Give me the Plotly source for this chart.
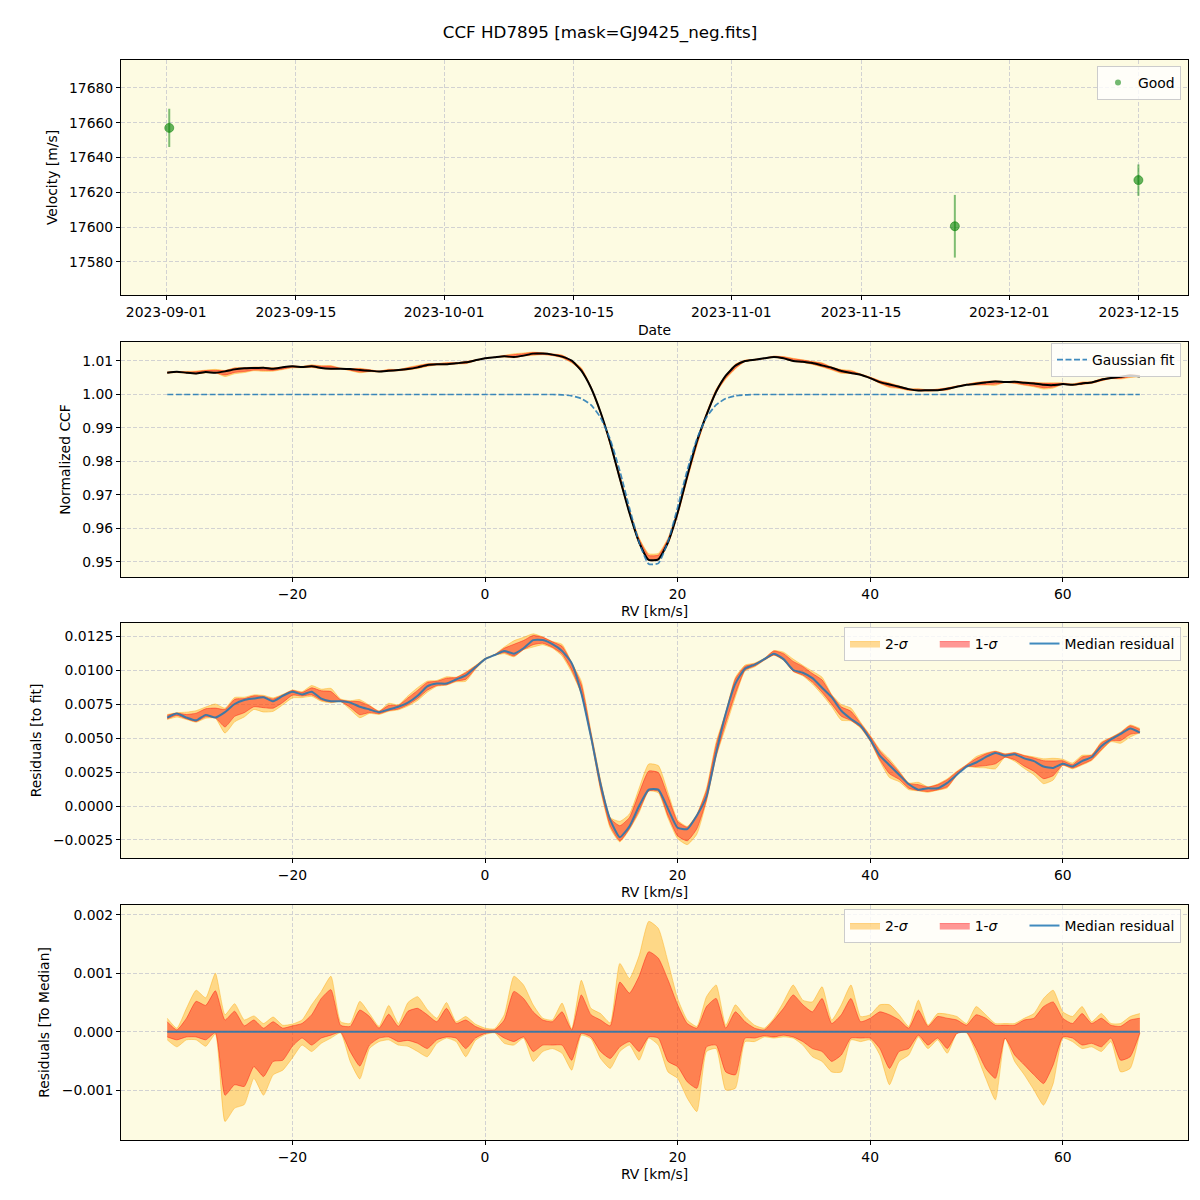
import plotly.graph_objects as go

# ---------------- data ----------------
title_text = "CCF HD7895 [mask=GJ9425_neg.fits]"

obs_dates = ["2023-09-01 08:00", "2023-11-25 03:00", "2023-12-14 22:30"]
obs_velocity = [17657.0, 17600.5, 17627.0]
obs_error = [11.0, 18.0, 9.0]

date_ticks = ["2023-09-01", "2023-09-15", "2023-10-01", "2023-10-15",
              "2023-11-01", "2023-11-15", "2023-12-01", "2023-12-15"]

rv = list(range(-33, 69))  # km/s grid (-33 ... 68)

gauss_fit = ([1.0] * 41 +
             [0.9999, 0.9996, 0.9988, 0.9969, 0.9931, 0.9866, 0.9772, 0.9661, 0.9559, 0.9494,
              0.9496, 0.9561, 0.9663, 0.9774, 0.9867, 0.9932, 0.9969, 0.9988, 0.9996, 0.9999] +
             [1.0] * 41)

median_resid = [
    0.0065, 0.0068, 0.0065, 0.0063, 0.0067, 0.0065, 0.0069, 0.0075, 0.0078, 0.0079,
    0.0080, 0.0077, 0.0081, 0.0084, 0.0082, 0.0084, 0.0079, 0.0077, 0.0077, 0.0076,
    0.0073, 0.0071, 0.0069, 0.0071, 0.0073, 0.0076, 0.0081, 0.0088, 0.0090, 0.0090,
    0.0093, 0.0096, 0.0102, 0.0108, 0.0111, 0.0114, 0.0112, 0.0116, 0.0122, 0.0122,
    0.0119, 0.0114, 0.0105, 0.0083, 0.0051, 0.0016, -0.0010, -0.0023, -0.0015, 0.0000,
    0.0012, 0.0012, -0.0002, -0.0016, -0.0017, -0.0007, 0.0007, 0.0039, 0.0068, 0.0090,
    0.0101, 0.0104, 0.0108, 0.0112, 0.0108, 0.0100, 0.0098, 0.0094, 0.0087, 0.0080,
    0.0070, 0.0064, 0.0059, 0.0049, 0.0037, 0.0030, 0.0023, 0.0016, 0.0012, 0.0013,
    0.0013, 0.0017, 0.0023, 0.0029, 0.0032, 0.0036, 0.0039, 0.0037, 0.0038, 0.0035,
    0.0033, 0.0029, 0.0028, 0.0031, 0.0029, 0.0033, 0.0036, 0.0044, 0.0049, 0.0053,
    0.0057, 0.0054]

# offsets from the median residual, in units of 1e-3
upper_1sigma_milli = [
    0.17, 0.03, 0.23, 0.52, 0.45, 0.70, 0.20, 0.35, 0.10, 0.20,
    0.06, 0.17, 0.06, 0.10, 0.14, 0.29, 0.57, 0.72, 0.11, 0.09,
    0.37, 0.26, 0.06, 0.30, 0.09, 0.35, 0.40, 0.29, 0.17, 0.40,
    0.14, 0.20, 0.09, 0.03, 0.03, 0.20, 0.69, 0.57, 0.34, 0.20,
    0.17, 0.34, 0.03, 0.63, 0.29, 0.20, 0.10, 0.85, 0.66, 0.95,
    1.37, 1.26, 0.89, 0.46, 0.14, 0.06, 0.43, 0.57, 0.06, 0.34,
    0.17, 0.06, 0.03, 0.20, 0.40, 0.63, 0.46, 0.34, 0.57, 0.14,
    0.29, 0.57, 0.17, 0.23, 0.34, 0.29, 0.20, 0.06, 0.37, 0.09,
    0.26, 0.23, 0.20, 0.11, 0.29, 0.23, 0.11, 0.11, 0.11, 0.20,
    0.23, 0.43, 0.51, 0.23, 0.14, 0.31, 0.14, 0.23, 0.11, 0.09,
    0.20, 0.23]
upper_2sigma_milli = [
    0.23, 0.06, 0.40, 0.71, 0.58, 1.00, 0.29, 0.48, 0.20, 0.27,
    0.14, 0.25, 0.11, 0.13, 0.20, 0.46, 0.69, 0.95, 0.17, 0.14,
    0.52, 0.31, 0.09, 0.45, 0.14, 0.50, 0.60, 0.38, 0.23, 0.50,
    0.17, 0.26, 0.13, 0.06, 0.05, 0.29, 0.95, 0.80, 0.46, 0.23,
    0.20, 0.49, 0.05, 0.88, 0.40, 0.31, 0.15, 1.17, 0.91, 1.30,
    1.89, 1.77, 1.20, 0.57, 0.20, 0.09, 0.60, 0.80, 0.11, 0.46,
    0.26, 0.11, 0.06, 0.23, 0.51, 0.80, 0.54, 0.51, 0.77, 0.20,
    0.46, 0.80, 0.26, 0.29, 0.46, 0.46, 0.29, 0.09, 0.54, 0.11,
    0.31, 0.30, 0.26, 0.14, 0.43, 0.29, 0.14, 0.14, 0.14, 0.23,
    0.31, 0.57, 0.71, 0.34, 0.26, 0.43, 0.17, 0.31, 0.14, 0.14,
    0.26, 0.31]
lower_1sigma_milli = [
    -0.09, -0.14, -0.09, -0.09, -0.14, -0.02, -1.09, -0.91, -0.94, -0.60,
    -0.77, -0.51, -0.49, -0.25, -0.11, -0.23, -0.11, -0.06, -0.01, -0.34,
    -0.59, -0.23, -0.11, -0.09, -0.17, -0.15, -0.20, -0.29, -0.14, -0.09,
    -0.11, -0.29, -0.11, -0.03, -0.01, -0.11, -0.17, -0.09, -0.34, -0.23,
    -0.23, -0.23, -0.49, -0.03, -0.09, -0.34, -0.46, -0.26, -0.17, -0.34,
    -0.09, -0.11, -0.51, -0.60, -0.86, -0.97, -0.26, -0.23, -0.69, -0.74,
    -0.11, -0.11, -0.07, -0.09, -0.06, -0.09, -0.17, -0.29, -0.34, -0.51,
    -0.40, -0.11, -0.11, -0.11, -0.29, -0.63, -0.34, -0.29, -0.06, -0.23,
    -0.11, -0.29, -0.03, -0.01, -0.29, -0.63, -0.80, -0.11, -0.40, -0.57,
    -0.74, -0.89, -0.57, -0.09, -0.11, -0.23, -0.20, -0.26, -0.11, -0.49,
    -0.43, -0.02]
lower_2sigma_milli = [
    -0.14, -0.26, -0.14, -0.14, -0.25, -0.04, -1.54, -1.31, -1.25, -0.80,
    -1.09, -0.74, -0.66, -0.45, -0.23, -0.34, -0.20, -0.11, -0.02, -0.51,
    -0.81, -0.29, -0.17, -0.14, -0.23, -0.25, -0.34, -0.43, -0.20, -0.11,
    -0.17, -0.43, -0.15, -0.05, -0.02, -0.20, -0.23, -0.11, -0.51, -0.34,
    -0.29, -0.37, -0.66, -0.06, -0.12, -0.46, -0.63, -0.34, -0.23, -0.49,
    -0.11, -0.23, -0.69, -0.80, -1.14, -1.37, -0.34, -0.29, -1.00, -0.97,
    -0.17, -0.17, -0.09, -0.11, -0.09, -0.11, -0.23, -0.43, -0.51, -0.69,
    -0.69, -0.14, -0.17, -0.14, -0.40, -0.91, -0.51, -0.40, -0.09, -0.29,
    -0.14, -0.37, -0.03, -0.02, -0.37, -0.80, -1.17, -0.11, -0.51, -0.74,
    -1.00, -1.26, -0.89, -0.11, -0.17, -0.29, -0.26, -0.34, -0.17, -0.69,
    -0.63, -0.02]

# ---------------- derived series ----------------
milli = 1e-3
up1 = [v * milli for v in upper_1sigma_milli]
up2 = [v * milli for v in upper_2sigma_milli]
lo1 = [v * milli for v in lower_1sigma_milli]
lo2 = [v * milli for v in lower_2sigma_milli]

ccf_median = [f + m for f, m in zip(gauss_fit, median_resid)]
res_zero = [m - m for m in median_resid]


def shift(base, off):
    return [b + o for b, o in zip(base, off)]


# ---------------- styling ----------------
BG = "#FDFBE2"
C2 = "rgba(255,165,0,0.4)"
C1 = "rgba(255,0,0,0.4)"
BLUE = "rgba(31,119,180,0.85)"
FONT = "DejaVu Sans"
FS = 13.9
SPL = dict(shape="spline", smoothing=0.5)
PAD = "\u00a0" * 5

fig = go.Figure()


def add_band(upper, lower, color, xa, ya, name=None, legend=None):
    fig.add_trace(go.Scatter(x=rv, y=lower, mode="lines", line=dict(color=color, width=1, **SPL),
                             showlegend=False, hoverinfo="skip", xaxis=xa, yaxis=ya))
    kw = dict(name=name, legend=legend, showlegend=True) if name else dict(showlegend=False)
    fig.add_trace(go.Scatter(x=rv, y=upper, mode="lines", fill="tonexty", fillcolor=color,
                             line=dict(color=color, width=1, **SPL),
                             hoverinfo="skip", xaxis=xa, yaxis=ya, **kw))


# Panel 1: velocities
fig.add_trace(go.Scatter(
    x=obs_dates, y=obs_velocity, mode="markers", name="Good", showlegend=False,
    marker=dict(color="rgba(0,128,0,0.6)", size=9, line=dict(color="rgba(0,128,0,0.5)", width=1)),
    error_y=dict(type="data", array=obs_error, color="rgba(0,128,0,0.5)", thickness=2, width=0),
    xaxis="x", yaxis="y"))
# legend entry (small marker, as in the legend of the original)
fig.add_trace(go.Scatter(
    x=[None], y=[None], mode="markers", name="Good",
    marker=dict(color="rgba(0,128,0,0.55)", size=6),
    xaxis="x", yaxis="y", legend="legend"))

# Panel 2: CCF
add_band(shift(ccf_median, up2), shift(ccf_median, lo2), C2, "x2", "y2")
add_band(shift(ccf_median, up1), shift(ccf_median, lo1), C1, "x2", "y2")
fig.add_trace(go.Scatter(x=rv, y=ccf_median, mode="lines", showlegend=False,
                         line=dict(color="black", width=2, **SPL),
                         xaxis="x2", yaxis="y2"))
fig.add_trace(go.Scatter(x=rv, y=gauss_fit, mode="lines", name="Gaussian fit",
                         line=dict(color=BLUE, width=1.7, dash="6px,2.5px", **SPL),
                         xaxis="x2", yaxis="y2", legend="legend2"))

# Panel 3 and 4: residuals
for base, xa, ya, lg in [(median_resid, "x3", "y3", "legend3"), (res_zero, "x4", "y4", "legend4")]:
    add_band(shift(base, up2), shift(base, lo2), C2, xa, ya, "2-<i>σ</i>" + PAD, lg)
    add_band(shift(base, up1), shift(base, lo1), C1, xa, ya, "1-<i>σ</i>" + PAD, lg)
    fig.add_trace(go.Scatter(x=rv, y=base, mode="lines", name="Median residual",
                             line=dict(color=BLUE, width=2, **SPL),
                             xaxis=xa, yaxis=ya, legend=lg))

# ---------------- layout ----------------
W = 1200.0
xdom = [121 / W, 1188 / W]
ydoms = [(60, 295), (342, 577), (623, 858), (905, 1140)]


def ydom(t, b):
    return [1 - b / W, 1 - t / W]


ax = dict(showline=True, linecolor="black", linewidth=1, mirror=True,
          ticks="outside", ticklen=4, tickwidth=1, tickcolor="black",
          showgrid=True, gridcolor="#D2D2D2", griddash="4px,2px", gridwidth=1,
          zeroline=False, tickfont=dict(family=FONT, size=FS, color="black"))

rv_range = [-37.8, 73.0]
legend_style = dict(bgcolor="rgba(255,255,255,0.8)", bordercolor="#CCCCCC", borderwidth=1,
                    font=dict(family=FONT, size=FS, color="black"), xanchor="right", yanchor="top",
                    x=1181 / W, traceorder="normal")

fig.update_layout(
    width=1200, height=1200, margin=dict(l=0, r=0, t=0, b=0),
    paper_bgcolor="white", plot_bgcolor=BG,
    font=dict(family=FONT, size=FS, color="black"),
    title=dict(text=title_text, x=0.5, xanchor="center", y=1 - 32 / W, yanchor="middle",
               font=dict(family=FONT, size=16.7, color="black")),
    xaxis=dict(ax, domain=xdom, anchor="y", type="date",
               range=["2023-08-27 03:00", "2023-12-20 07:00"],
               tickvals=date_ticks, tickformat="%Y-%m-%d",
               title=dict(text="Date", standoff=6, font=dict(family=FONT, size=FS))),
    yaxis=dict(ax, domain=ydom(*ydoms[0]), anchor="x", range=[17561, 17696],
               tick0=17580, dtick=20, tickformat="d",
               title=dict(text="Velocity [m/s]", standoff=8, font=dict(family=FONT, size=FS))),
    xaxis2=dict(ax, domain=xdom, anchor="y2", range=rv_range, tick0=0, dtick=20,
                title=dict(text="RV [km/s]", standoff=5, font=dict(family=FONT, size=FS))),
    yaxis2=dict(ax, domain=ydom(*ydoms[1]), anchor="x2", range=[0.94552, 1.01567],
                tick0=0.95, dtick=0.01, tickformat=".2f",
                title=dict(text="Normalized CCF", standoff=8, font=dict(family=FONT, size=FS))),
    xaxis3=dict(ax, domain=xdom, anchor="y3", range=rv_range, tick0=0, dtick=20,
                title=dict(text="RV [km/s]", standoff=5, font=dict(family=FONT, size=FS))),
    yaxis3=dict(ax, domain=ydom(*ydoms[2]), anchor="x3", range=[-0.003824, 0.013456],
                tick0=-0.0025, dtick=0.0025, tickformat=".4f",
                title=dict(text="Residuals [to fit]", standoff=8, font=dict(family=FONT, size=FS))),
    xaxis4=dict(ax, domain=xdom, anchor="y4", range=rv_range, tick0=0, dtick=20,
                title=dict(text="RV [km/s]", standoff=5, font=dict(family=FONT, size=FS))),
    yaxis4=dict(ax, domain=ydom(*ydoms[3]), anchor="x4", range=[-0.001857, 0.002171],
                tick0=-0.001, dtick=0.001, tickformat=".3f",
                title=dict(text="Residuals [To Median]", standoff=8, font=dict(family=FONT, size=FS))),
    legend=dict(legend_style, y=1 - 66 / W),
    legend2=dict(legend_style, y=1 - 343 / W),
    legend3=dict(legend_style, y=1 - 627 / W, orientation="h"),
    legend4=dict(legend_style, y=1 - 909 / W, orientation="h"),
    showlegend=True,
)

fig.write_html("out.html")
